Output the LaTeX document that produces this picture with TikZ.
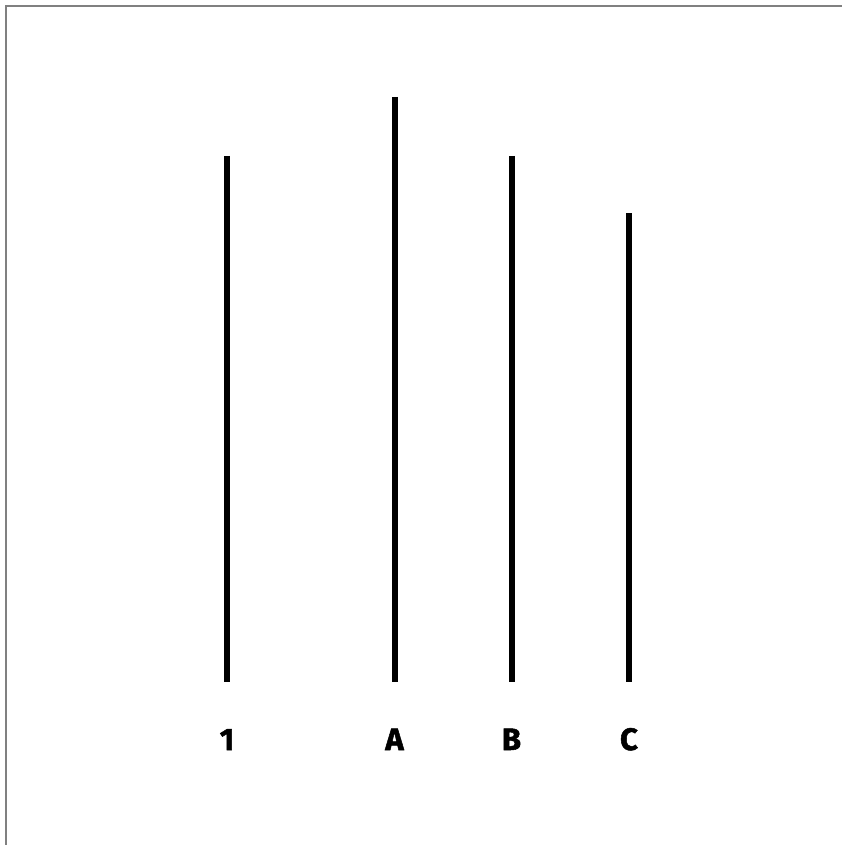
\documentclass[tikz,border=0pt]{standalone}
\usepackage{fontspec}
\setmainfont{Fira Sans}
\newfontfamily\heavyfont{Fira Sans}[BoldFeatures={FakeBold=1.6}]
\usepackage{xcolor}
\definecolor{framegray}{RGB}{128,128,128}
\usepackage{tikz}
\usetikzlibrary{positioning}

\begin{document}
\begin{tikzpicture}[
    x=1pt, y=-1pt,
    bar/.style={line width=6pt, black},
    barlbl/.style={font=\heavyfont\fontsize{31}{31}\selectfont\bfseries, anchor=base},
  ]
    \useasboundingbox (0,0) rectangle (842,845);

    % Cadre (haut et gauche seulement)
    \draw[framegray, line width=2.2pt] (6,845) -- (6,6) -- (842,6);

    % Ligne de reference et lignes de comparaison
    \coordinate (ref top) at (227,156);   \coordinate (ref bot) at (227,682);
    \coordinate (a top)   at (394.5,97);  \coordinate (a bot)   at (394.5,682);
    \coordinate (b top)   at (511.5,156); \coordinate (b bot)   at (511.5,682);
    \coordinate (c top)   at (629,213);   \coordinate (c bot)   at (629,682);

    \draw[bar] (ref top) -- (ref bot);
    \draw[bar] (a top) -- (a bot);
    \draw[bar] (b top) -- (b bot);
    \draw[bar] (c top) -- (c bot);

    % Etiquettes
    \node[barlbl] (lbl ref) at (227,750) {1};
    \node[barlbl] (lbl a)   at (394.5,750) {A};
    \node[barlbl] (lbl b)   at (511.5,750) {B};
    \node[barlbl] (lbl c)   at (629,750) {C};
  \end{tikzpicture}
\end{document}
